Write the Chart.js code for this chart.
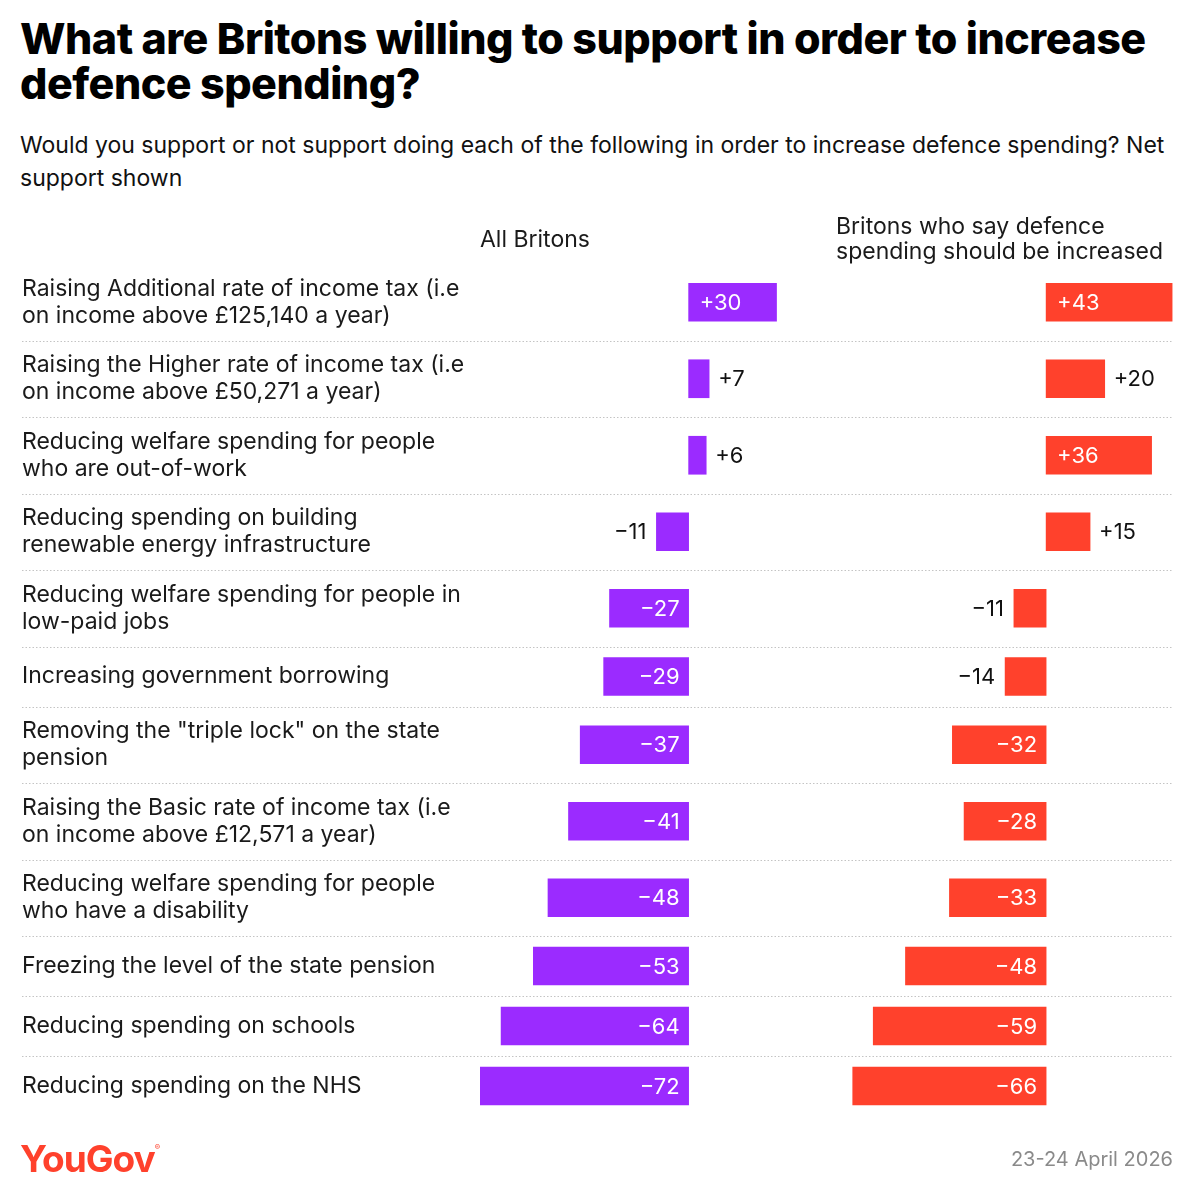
<!DOCTYPE html>
<html>
<head>
<meta charset="utf-8">
<script src="https://cdn.jsdelivr.net/npm/chart.js@4.4.1/dist/chart.umd.min.js"></script>
<style>
  body { margin: 0; background: #fff; width: 1194px; height: 1200px; position: relative; overflow: hidden; font-family: Inter, "Noto Sans", sans-serif; }
  #title { position: absolute; left: 20px; top: 16px; width: 1170px; font-weight: 800; font-size: 43px; line-height: 45px; color: #000; letter-spacing: -0.5px; }
  #sub { position: absolute; left: 20px; top: 129px; width: 1170px; font-size: 23px; line-height: 33px; color: #111; }
  #chart { position: absolute; left: 0; top: 0; }
  #logo { position: absolute; left: 20px; top: 1136px; font-weight: 700; font-size: 37px; color: #ff412c; letter-spacing: -1px; }
  #logo sup { font-size: 8px; font-weight: 400; letter-spacing: 0; vertical-align: top; position: relative; top: 6px; }
  #date { position: absolute; right: 21px; top: 1147px; font-size: 20px; color: #8a8a8a; }
</style>
</head>
<body>
<div id="title">What are Britons willing to support in order to increase defence spending?</div>
<div id="sub">Would you support or not support doing each of the following in order to increase defence spending? Net support shown</div>
<canvas id="chart" width="1194" height="1200"></canvas>
<div id="logo">YouGov<sup>®</sup></div>
<div id="date">23-24 April 2026</div>
<script>
const categories = [
  ["Raising Additional rate of income tax (i.e", "on income above £125,140 a year)"],
  ["Raising the Higher rate of income tax (i.e", "on income above £50,271 a year)"],
  ["Reducing welfare spending for people", "who are out-of-work"],
  ["Reducing spending on building", "renewable energy infrastructure"],
  ["Reducing welfare spending for people in", "low-paid jobs"],
  ["Increasing government borrowing"],
  ["Removing the \"triple lock\" on the state", "pension"],
  ["Raising the Basic rate of income tax (i.e", "on income above £12,571 a year)"],
  ["Reducing welfare spending for people", "who have a disability"],
  ["Freezing the level of the state pension"],
  ["Reducing spending on schools"],
  ["Reducing spending on the NHS"],
];
const allBritons = [30, 7, 6, -11, -27, -29, -37, -41, -48, -53, -64, -72];
const increaseSupporters = [43, 20, 36, 15, -11, -14, -32, -28, -33, -48, -59, -66];
const seriesNames = [["All Britons"], ["Britons who say defence", "spending should be increased"]];

const PURPLE = "#9b2bff";
const RED = "#ff412c";
const FONT = 'Inter, "Noto Sans", sans-serif';

// row heights follow the number of label lines
const rowHeights = categories.map(c => c.length > 1 ? 76.5 : 60);
const rowTops = [];
let acc = 0;
rowHeights.forEach(h => { rowTops.push(acc); acc += h; });
const totalHeight = acc;
const centers = rowTops.map((t, i) => t + rowHeights[i] / 2);

function fmt(v) {
  return v > 0 ? "+" + v : "\u2212" + Math.abs(v);
}

const overlay = {
  id: "overlay",
  afterDatasetsDraw(chart) {
    const ctx = chart.ctx;
    const y = chart.scales.y;
    const area = chart.chartArea;
    ctx.save();

    // separators
    ctx.strokeStyle = "#c4c4c4";
    ctx.lineWidth = 1;
    ctx.setLineDash([1.5, 2]);
    for (let i = 1; i < categories.length; i++) {
      const py = Math.round(y.getPixelForValue(rowTops[i])) + 0.5;
      ctx.beginPath();
      ctx.moveTo(22, py);
      ctx.lineTo(area.right, py);
      ctx.stroke();
    }
    ctx.setLineDash([]);

    // category labels
    ctx.font = "23px " + FONT;
    ctx.fillStyle = "#1a1a1a";
    ctx.textBaseline = "middle";
    ctx.textAlign = "left";
    categories.forEach((lines, i) => {
      const cy = y.getPixelForValue(centers[i]);
      const start = cy - (lines.length - 1) * 27 / 2;
      lines.forEach((l, k) => ctx.fillText(l, 22, start + k * 27));
    });

    // column headers
    const headerX = [area.left, area.left + 356];
    seriesNames.forEach((lines, i) => {
      const start = area.top - 24 - (lines.length - 1) * 25 / 2;
      lines.forEach((l, k) => ctx.fillText(l, headerX[i], start + k * 25));
    });

    // value labels
    ctx.font = "22px " + FONT;
    chart.data.datasets.forEach((ds, di) => {
      const meta = chart.getDatasetMeta(di);
      const xs = chart.scales[ds.xAxisID];
      const zero = xs.getPixelForValue(0);
      meta.data.forEach((bar, i) => {
        const v = ds.data[i].x;
        const inside = Math.abs(v) >= 25;
        const end = xs.getPixelForValue(v);
        ctx.fillStyle = inside ? "#fff" : "#111";
        let tx;
        if (v > 0) {
          ctx.textAlign = "left";
          tx = inside ? zero + 11 : end + 9;
        } else {
          ctx.textAlign = "right";
          tx = inside ? zero - 9 : end - 10;
        }
        ctx.fillText(fmt(v), tx, bar.y + 1);
      });
    });
    ctx.restore();
  }
};

new Chart(document.getElementById("chart"), {
  type: "bar",
  data: {
    datasets: [
      {
        label: seriesNames[0].join(" "),
        data: allBritons.map((v, i) => ({ x: v, y: centers[i] })),
        backgroundColor: PURPLE,
        xAxisID: "x",
        barThickness: 38,
        grouped: false,
      },
      {
        label: seriesNames[1].join(" "),
        data: increaseSupporters.map((v, i) => ({ x: v, y: centers[i] })),
        backgroundColor: RED,
        xAxisID: "x2",
        barThickness: 38,
        grouped: false,
      },
    ],
  },
  options: {
    indexAxis: "y",
    responsive: false,
    animation: false,
    devicePixelRatio: 1,
    layout: { padding: { left: 480, right: 21, top: 264, bottom: 84 } },
    plugins: {
      legend: { display: false },
      tooltip: { enabled: false },
    },
    scales: {
      y: { type: "linear", min: 0, max: totalHeight, reverse: true, offset: false, display: false },
      x: { type: "linear", min: -71.2, max: 165.3, display: false },
      x2: { type: "linear", min: -193.2, max: 43.3, display: false },
    },
  },
  plugins: [overlay],
});
</script>
</body>
</html>
